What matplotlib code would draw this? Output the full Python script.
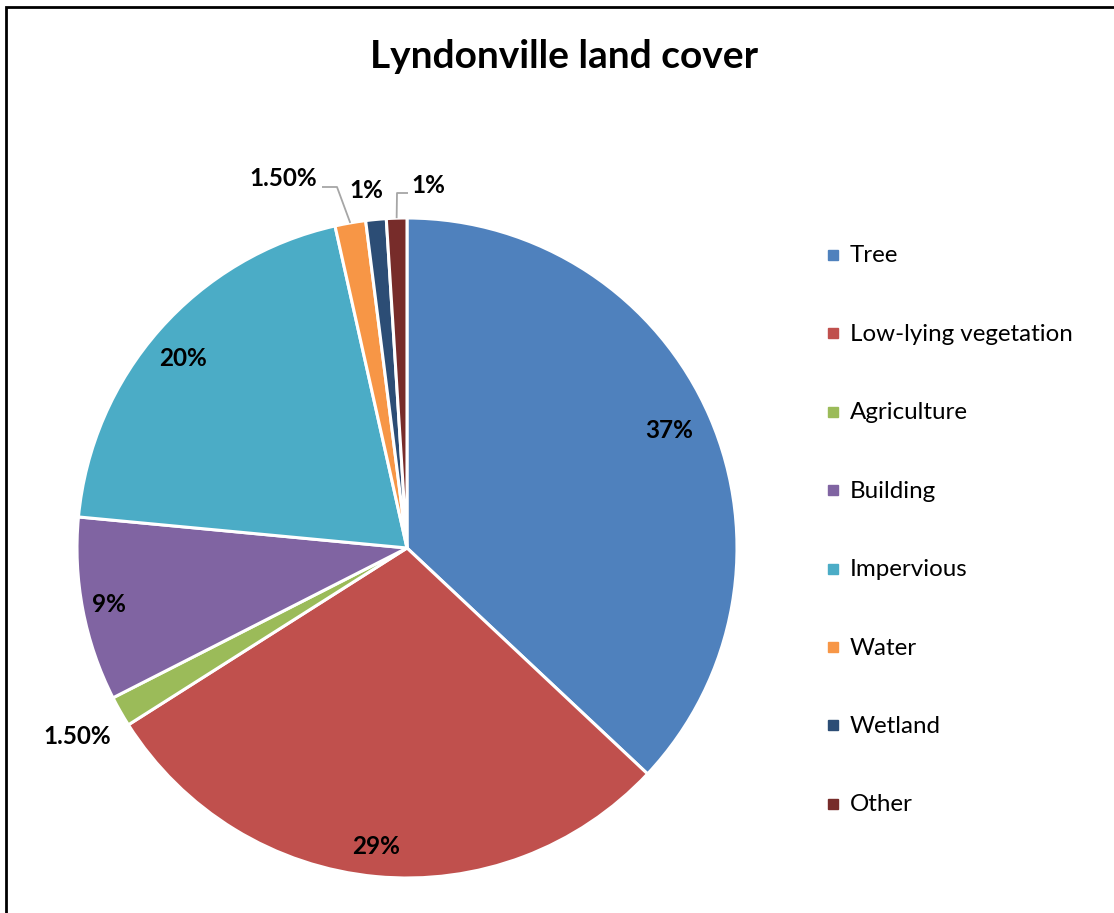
import numpy as np
import matplotlib.pyplot as plt
from matplotlib.patches import Rectangle

plt.rcParams['font.family'] = ['Lato', 'DejaVu Sans']

# Land cover shares (percent)
categories = ['Tree', 'Low-lying vegetation', 'Agriculture', 'Building',
              'Impervious', 'Water', 'Wetland', 'Other']
shares = [37, 29, 1.5, 9, 20, 1.5, 1, 1]
share_labels = ['37%', '29%', '1.50%', '9%', '20%', '1.50%', '1%', '1%']
colors = ['#4F81BD', '#C0504D', '#9BBB59', '#8064A2',
          '#4BACC6', '#F79646', '#2C4D75', '#772C2A']

W, H = 1114, 913
fig = plt.figure(figsize=(W / 100, H / 100), dpi=100)
ax = fig.add_axes([0, 0, 1, 1])

cx, cy, R = 407, H - 548, 330
wedges, _ = ax.pie(shares, colors=colors, startangle=90, counterclock=False,
                   center=(cx, cy), radius=R,
                   wedgeprops=dict(edgecolor='white', linewidth=2.2))
ax.set_xlim(0, W)
ax.set_ylim(0, H)
ax.set_aspect('equal')
ax.axis('off')

# label distance (fraction of radius) and extra angle shift per slice
label_r = [0.87, 0.91, 1.15, 0.92, 0.89, 1.18, 1.09, 1.10]
label_da = [0.8, -0.6, 0, 0, 1.2, 8.7, 1.1, -5.1]
for w, lab, lr, da in zip(wedges, share_labels, label_r, label_da):
    mid = np.deg2rad((w.theta1 + w.theta2) / 2 + da)
    ax.text(cx + lr * R * np.cos(mid), cy + lr * R * np.sin(mid), lab,
            ha='center', va='center', fontsize=17.5, fontweight='bold',
            color='black')

# leader lines for the small slices at the top
def leader(w, pts):
    mid = np.deg2rad((w.theta1 + w.theta2) / 2)
    x0, y0 = cx + R * np.cos(mid), cy + R * np.sin(mid)
    xs = [x0] + [p[0] for p in pts]
    ys = [y0] + [p[1] for p in pts]
    ax.plot(xs, ys, color='#A6A6A6', lw=1.3, solid_capstyle='butt')

leader(wedges[5], [(337, H - 187), (322, H - 187)])
leader(wedges[7], [(397, H - 193), (408, H - 193)])

fig.text(564 / W, 1 - 57 / H, 'Lyndonville land cover', ha='center',
         va='center', fontsize=28, fontweight='bold')

# legend
for i, (name, c) in enumerate(zip(categories, colors)):
    y = 256 + i * 78.4
    fig.patches.append(Rectangle((828 / W, 1 - (y + 4) / H), 10 / W, 10 / H,
                                 transform=fig.transFigure, color=c))
    fig.text(850 / W, 1 - y / H, name, ha='left', va='center', fontsize=17.4,
             color='black')

# outer frame
fig.patches.append(Rectangle((6 / W, -0.1), 1.2, 1 - 7 / H + 0.1,
                             transform=fig.transFigure, fill=False,
                             edgecolor='black', lw=2))

fig.savefig('out.png', dpi=100)
